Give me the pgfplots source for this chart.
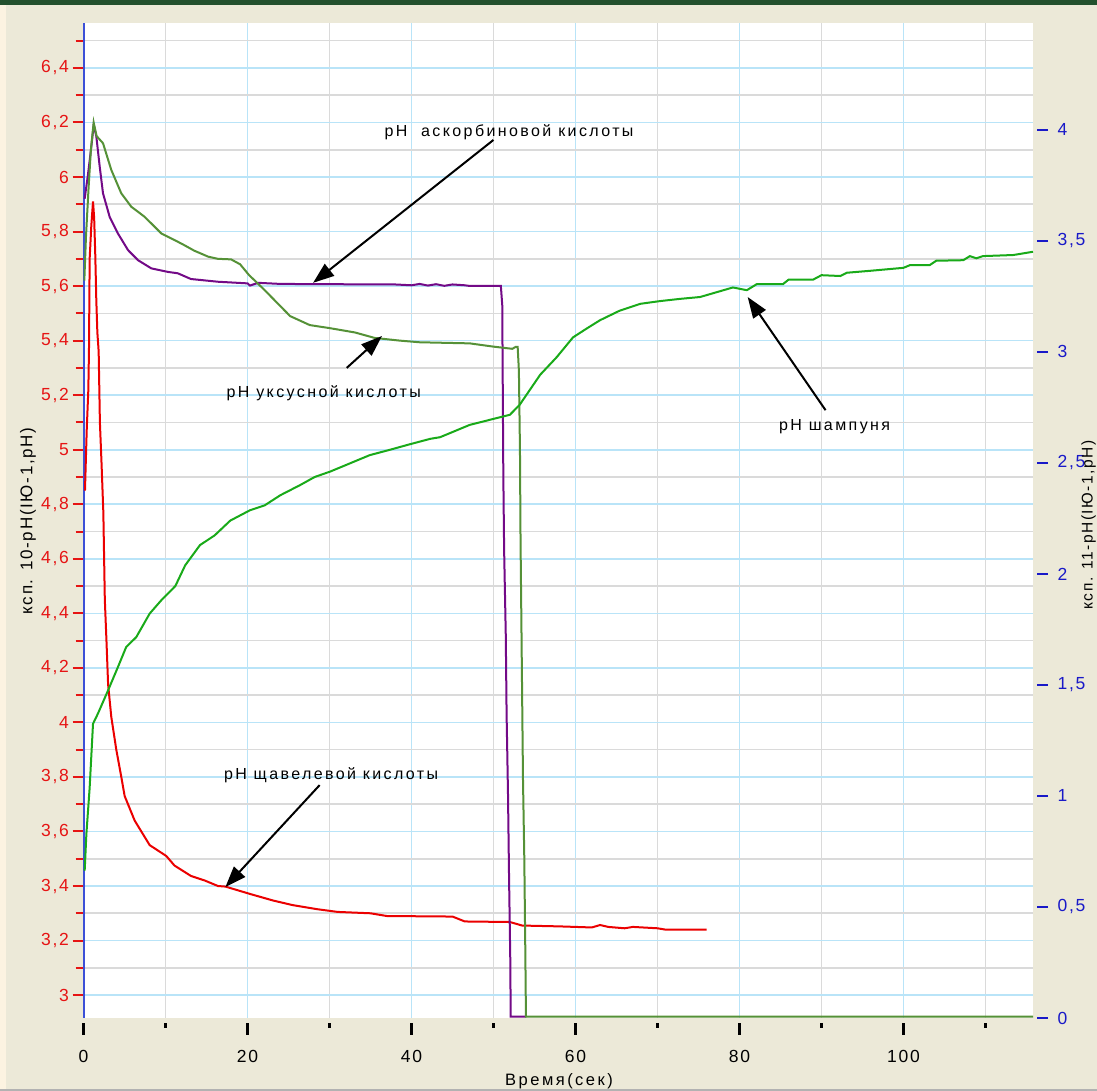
\documentclass[border=0pt]{standalone}
\usepackage{fontspec}
\setmainfont{Liberation Sans}
\newfontfamily\annfont[LetterSpace=15]{Liberation Sans}
\newfontfamily\tickfont[LetterSpace=10]{Liberation Sans}
\usepackage{pgfplots}
\pgfplotsset{compat=1.18}
\usetikzlibrary{arrows.meta}
\definecolor{bg}{RGB}{236,233,216}
\definecolor{cream}{RGB}{252,243,225}
\definecolor{topgreen}{RGB}{35,80,45}
\definecolor{gridblue}{RGB}{185,228,248}
\definecolor{gridgray}{RGB}{218,218,218}
\definecolor{axblue}{RGB}{60,80,215}
\definecolor{tred}{RGB}{230,20,20}
\definecolor{tblue}{RGB}{25,25,200}
\definecolor{cred}{RGB}{235,0,0}
\definecolor{cpurple}{RGB}{115,10,135}
\definecolor{colive}{RGB}{85,145,55}
\definecolor{cgreen}{RGB}{25,170,25}
\begin{document}
\begin{tikzpicture}
\useasboundingbox (-83.5pt,-73pt) rectangle (1013.5pt,1018pt);
\clip (-83.5pt,-73pt) rectangle (1013.5pt,1018pt);
\fill[bg] (-83.5pt,-73pt) rectangle (1013.5pt,1018pt);
\fill[cream] (-83.5pt,-73pt) rectangle (-77.5pt,1018pt);
\fill[topgreen] (-83.5pt,1013pt) rectangle (1013.5pt,1018pt);
\fill[gray!60] (-83.5pt,-73pt) rectangle (1013.5pt,-71pt);
\fill[white] (0pt,0pt) rectangle (949.5pt,995.3pt);
% main axis
\begin{axis}[
  at={(0pt,0pt)}, anchor=south west, scale only axis,
  width=949.5pt, height=995.3pt,
  xmin=0, xmax=115.8, ymin=2.916, ymax=6.566,
  axis y line*=left, axis x line*=bottom,
  x axis line style={draw=none},
  y axis line style={axblue, line width=2pt},
  xtick={0,20,40,60,80,100}, minor xtick={10,30,50,70,90,110},
  xticklabels={}, xtick style={draw=none},
  xmajorgrids, xminorgrids, ymajorgrids, yminorgrids,
  ytick={3,3.2,3.4,3.6,3.8,4,4.2,4.4,4.6,4.8,5,5.2,5.4,5.6,5.8,6,6.2,6.4},
  minor ytick={3.1,3.3,3.5,3.7,3.9,4.1,4.3,4.5,4.7,4.9,5.1,5.3,5.5,5.7,5.9,6.1,6.3,6.5},
  tick align=outside, major tick length=11pt, minor tick length=8pt,
  ytick style={tred, line width=2pt},
  major grid style={gridblue, line width=1.6pt},
  minor grid style={gridgray, line width=1.6pt},
  /pgf/number format/assume math mode=true,
  yticklabel style={tred, font=\tickfont\fontsize{17.5}{17.5}\selectfont,
    /pgf/number format/.cd, use comma, fixed, precision=1},
  clip=true,
]
% oxalic acid (red)
\addplot[cred, line width=2pt] coordinates {
(0.18,4.85) (0.39,5.07) (0.59,5.22) (0.67,5.37) (0.75,5.70) (0.95,5.82) (1.16,5.91)
(1.30,5.85) (1.44,5.71) (1.56,5.55) (1.69,5.43) (1.85,5.36) (2.0,5.10) (2.2,4.95)
(2.42,4.77) (2.6,4.45) (2.8,4.30) (3.0,4.14) (3.39,4.02) (4.0,3.90) (4.61,3.80)
(5.02,3.73) (6.24,3.64) (8.07,3.55) (10.1,3.51) (11.1,3.475) (13.1,3.437) (14.8,3.42)
(16.4,3.40) (17.3,3.398) (20.3,3.371) (23.1,3.347) (25.5,3.33) (28.5,3.315) (31,3.305)
(35,3.30) (37,3.29) (45,3.288) (46.5,3.27) (52,3.268) (53.5,3.255) (58,3.252)
(62,3.248) (63,3.257) (64,3.25) (66,3.245) (67,3.25) (70,3.245) (71,3.24) (76,3.24)
};
% ascorbic acid (purple)
\addplot[cpurple, line width=2pt] coordinates {
(0.14,5.92) (0.55,6.01) (0.95,6.11) (1.24,6.19) (1.56,6.15) (1.97,6.04) (2.38,5.94)
(3.19,5.854) (4.2,5.793) (5.43,5.732) (6.65,5.695) (8.27,5.665) (10.3,5.652)
(11.5,5.647) (13.1,5.626) (16.4,5.616) (20.0,5.61) (20.3,5.602) (21.3,5.612)
(24,5.608) (30,5.607) (38,5.606) (40,5.603) (41,5.608) (42,5.602) (43,5.607)
(44,5.601) (45,5.606) (46.5,5.603) (47,5.601) (50.9,5.601) (51.07,5.53) (51.2,4.91)
(51.3,4.63) (51.5,4.32) (51.6,4.03) (51.77,3.74) (51.9,3.43) (52.05,3.13)
(52.1,2.921) (54,2.921)
};
% acetic acid (olive green)
\addplot[colive, line width=2pt] coordinates {
(0.1,5.62) (0.3,5.78) (0.6,5.95) (0.9,6.1) (1.24,6.2) (1.6,6.15) (2.38,6.124)
(3.39,6.026) (4.61,5.94) (5.83,5.891) (7.46,5.854) (9.49,5.793) (11.1,5.769)
(12.3,5.75) (13.5,5.73) (15.2,5.708) (16.4,5.70) (18,5.698) (19.1,5.68) (20.2,5.64)
(20.9,5.62) (22.1,5.585) (25.2,5.49) (27.6,5.457) (30,5.446) (33.1,5.43) (35.5,5.41)
(38.6,5.40) (41,5.394) (47.1,5.39) (50,5.378) (52.3,5.37) (52.7,5.377) (52.95,5.377)
(53.1,5.29) (53.23,5.0) (53.3,4.67) (53.4,4.38) (53.5,4.085) (53.6,3.79) (53.76,3.50)
(53.88,3.17) (53.96,2.921) (115.8,2.921)
};
% shampoo (green)
\addplot[cgreen, line width=2pt] coordinates {
(0.06,3.457) (0.15,3.46) (0.35,3.59) (0.75,3.76) (1.16,3.995) (1.77,4.033) (2.99,4.117)
(4.2,4.203) (5.2,4.276) (6.44,4.313) (8.07,4.399) (9.49,4.448) (11.2,4.50) (12.4,4.576)
(14.2,4.65) (16.0,4.686) (17.9,4.74) (20.3,4.778) (22.1,4.796) (24,4.833) (26.4,4.87)
(28.2,4.90) (30.1,4.92) (32.5,4.95) (34.9,4.98) (37.4,5.0) (39.8,5.02) (42.3,5.04)
(43.5,5.046) (47.1,5.091) (50,5.113) (52,5.128) (53.2,5.165) (55.7,5.275) (57.7,5.339)
(59.7,5.412) (61.4,5.445) (63,5.475) (65.4,5.51) (67.9,5.535) (70.3,5.545) (72.7,5.553)
(75.2,5.56) (79.2,5.595) (80.9,5.585) (82.1,5.607) (85.3,5.607) (86,5.624) (89,5.624)
(90,5.64) (92.3,5.637) (93.1,5.649) (95.9,5.656) (100,5.667) (100.8,5.677) (103.2,5.677)
(104,5.693) (107.3,5.695) (108.1,5.71) (108.9,5.702) (109.7,5.71) (113.4,5.714) (115.8,5.726)
};
% annotations
\node[font=\annfont\fontsize{16}{16}\selectfont, inner sep=0] at (axis cs:51.9,6.165) {pH\ \ аскорбиновой кислоты};
\node[font=\annfont\fontsize{16}{16}\selectfont, inner sep=0] at (axis cs:29.3,5.207) {pH уксусной кислоты};
\node[font=\annfont\fontsize{16}{16}\selectfont, inner sep=0] at (axis cs:91.6,5.083) {pH шампуня};
\node[font=\annfont\fontsize{16}{16}\selectfont, inner sep=0] at (axis cs:30.2,3.806) {pH щавелевой кислоты};
\draw[black, line width=2pt, -{Triangle[length=21pt,width=15pt]}] (axis cs:50.0,6.136) -- (axis cs:28.0,5.612);
\draw[black, line width=2pt, -{Triangle[length=21pt,width=15pt]}] (axis cs:32.1,5.30) -- (axis cs:36.4,5.417);
\draw[black, line width=2pt, -{Triangle[length=21pt,width=15pt]}] (axis cs:90.5,5.145) -- (axis cs:81.0,5.56);
\draw[black, line width=2pt, -{Triangle[length=21pt,width=15pt]}] (axis cs:28.8,3.77) -- (axis cs:17.3,3.396);
\end{axis}
% x ticks axis
\begin{axis}[
  at={(0pt,0pt)}, anchor=south west, scale only axis,
  width=949.5pt, height=995.3pt,
  xmin=0, xmax=115.8, ymin=0, ymax=1,
  axis x line*=bottom, axis y line=none,
  axis line style={draw=none},
  xtick={0,20,40,60,80,100}, minor xtick={10,30,50,70,90,110},
  tick align=outside, major tick length=12pt, minor tick length=5pt,
  tick style={black, line width=2.5pt, yshift=-5pt},
  /pgf/number format/assume math mode=true,
  xticklabel style={black, font=\tickfont\fontsize{17.5}{17.5}\selectfont, yshift=-17pt},
]
\addplot[draw=none] coordinates {(0,0)};
\end{axis}
% right axis
\begin{axis}[
  at={(0pt,0pt)}, anchor=south west, scale only axis,
  width=949.5pt, height=995.3pt,
  xmin=0, xmax=115.8, ymin=0, ymax=4.483,
  axis y line*=right, axis x line=none,
  axis line style={draw=none},
  ytick={0,0.5,1,1.5,2,2.5,3,3.5,4},
  tick align=outside, major tick length=11pt,
  tick style={tblue, line width=2pt, xshift=4pt},
  /pgf/number format/assume math mode=true,
  yticklabel style={tblue, font=\tickfont\fontsize{17.5}{17.5}\selectfont, xshift=10pt,
    /pgf/number format/.cd, use comma, fixed, precision=1},
]
\addplot[draw=none] coordinates {(0,0)};
\end{axis}
\node[rotate=90, inner sep=0, font=\tickfont\fontsize{17}{17}\selectfont] at (-55.5pt,497pt) {ксп. 10-pH(IЮ-1,pH)};
\node[rotate=90, anchor=south, inner sep=0, font=\tickfont\fontsize{15.5}{15.5}\selectfont] at (1012.5pt,493pt) {ксп. 11-pH(IЮ-1,pH)};
\node[inner sep=0, font=\annfont\fontsize{16.5}{16.5}\selectfont] at (475.5pt,-63pt) {Время(сек)};
\end{tikzpicture}
\end{document}
